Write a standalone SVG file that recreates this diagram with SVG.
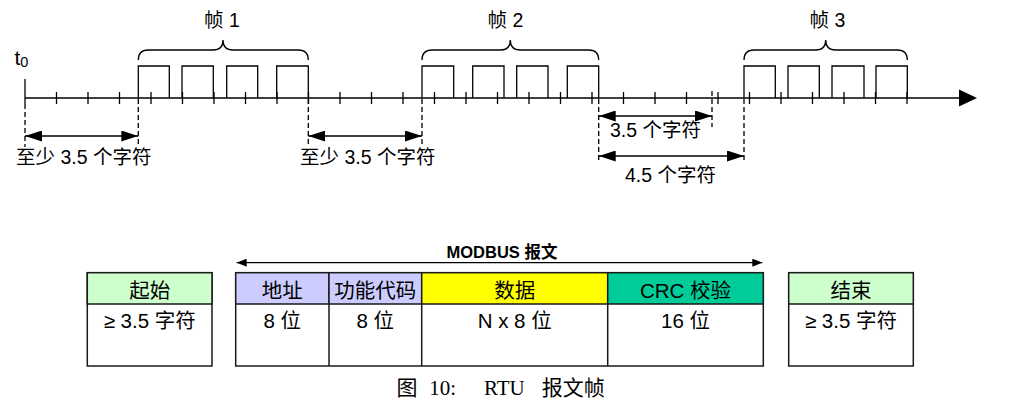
<svg xmlns="http://www.w3.org/2000/svg" width="1009" height="406" viewBox="0 0 1009 406">
<defs>
<style>
.t{font-family:"Liberation Sans","Noto Sans CJK SC",sans-serif;fill:#000}
.lbl{font-size:19.5px}
.hd{font-size:20.5px;text-anchor:middle}
.cap{font-family:"Liberation Serif","Noto Sans CJK SC",serif;font-size:21px;fill:#000}
.ln{stroke:#000;stroke-width:1.3;fill:none}
.dash{stroke:#000;stroke-width:1.3;fill:none;stroke-dasharray:5,3}
.box{stroke:#1a1a1a;stroke-width:1.5;fill:#fff}
</style>
<marker id="ah" viewBox="0 0 17 11" refX="17" refY="5.5" markerWidth="17" markerHeight="11" markerUnits="userSpaceOnUse" orient="auto-start-reverse">
<path d="M0,0 L17,5.5 L0,11 Z" fill="#000"/>
</marker>
<marker id="ah2" viewBox="0 0 10 8" refX="10" refY="4" markerWidth="10" markerHeight="8" markerUnits="userSpaceOnUse" orient="auto-start-reverse">
<path d="M0,0 L10,4 L0,8 Z" fill="#000"/>
</marker>
</defs>

<g id="timeline">
<path class="ln" d="M25,98 H960"/>
<path d="M959,89.5 L977,98 L959,106.5 Z" fill="#000"/>
<path class="ln" d="M25,79 V104"/>
<path class="ln" d="M56.5,92V104 M88,92V104 M119.5,92V104 M151,92V104 M182.5,92V104 M214,92V104 M245.5,92V104 M277,92V104 M308.5,92V104 M340,92V104 M371.5,92V104 M403,92V104 M434.5,92V104 M466,92V104 M497.5,92V104 M529,92V104 M560.5,92V104 M592,92V104 M623.5,92V104 M655,92V104 M686.5,92V104 M718,92V104 M749.5,92V104 M781,92V104 M812.5,92V104 M844,92V104 M875.5,92V104 M907,92V104"/>
<text class="t" x="14.5" y="65" font-size="21">t<tspan font-size="14.5" dy="1.5">0</tspan></text>
</g>

<g id="frame1">
<path class="ln" d="M138.3,98 V66 H169.3 V98 M182,98 V66 H213.3 V98 M226.7,98 V66 H257.7 V98 M276.7,98 V66 H308.3 V98"/>
<path class="ln" d="M138.3,60 Q138.3,50 148.3,50 L213,50 Q223,50 223,40 Q223,50 233,50 L298.3,50 Q308.3,50 308.3,60"/>
<text class="t lbl" x="204" y="27">帧 1</text>
</g>

<g id="frame2">
<path class="ln" d="M422,98 V66 H453.7 V98 M472.7,98 V66 H504 V98 M516.7,98 V66 H548 V98 M567.3,98 V66 H598.7 V98"/>
<path class="ln" d="M422,60 Q422,50 432,50 L500.3,50 Q510.3,50 510.3,40 Q510.3,50 520.3,50 L588.7,50 Q598.7,50 598.7,60"/>
<text class="t lbl" x="487.5" y="27">帧 2</text>
</g>

<g id="frame3">
<path class="ln" d="M744,98 V66 H775.3 V98 M788,98 V66 H819.3 V98 M832,98 V66 H864 V98 M876,98 V66 H907.3 V98"/>
<path class="ln" d="M744,60 Q744,50 754,50 L815.7,50 Q825.7,50 825.7,40 Q825.7,50 835.7,50 L897.3,50 Q907.3,50 907.3,60"/>
<text class="t lbl" x="809.5" y="27">帧 3</text>
</g>

<g id="connectors">
<path class="dash" d="M25,104 V147"/>
<path class="dash" d="M138.3,99 V147"/>
<path class="dash" d="M308.3,99 V147"/>
<path class="dash" d="M422,99 V147"/>
<path class="dash" d="M598.7,99 V161"/>
<path class="dash" d="M712,91 V127"/>
<path class="dash" d="M744,99 V161"/>
<path class="ln" d="M25,136 H138.3" marker-start="url(#ah)" marker-end="url(#ah)"/>
<path class="ln" d="M308.3,136 H422" marker-start="url(#ah)" marker-end="url(#ah)"/>
<path class="ln" d="M598.7,116 H712" marker-start="url(#ah)" marker-end="url(#ah)"/>
<path class="ln" d="M598.7,156 H744" marker-start="url(#ah)" marker-end="url(#ah)"/>
<path class="ln" d="M236.7,262.7 H762.3" marker-start="url(#ah2)" marker-end="url(#ah2)"/>
</g>

<g id="gap-labels">
<text class="t lbl" x="16" y="163.5">至少 3.5 个字符</text>
<text class="t lbl" x="300" y="163.5">至少 3.5 个字符</text>
<text class="t lbl" x="610" y="137">3.5 个字符</text>
<text class="t lbl" x="625" y="182">4.5 个字符</text>
</g>

<text class="t" x="446.5" y="257.5" font-size="16.5" font-weight="bold">MODBUS 报文</text>

<g id="start">
<rect class="box" x="87.3" y="272.7" width="124.7" height="93.3"/>
<rect x="87.3" y="272.7" width="124.7" height="31.3" fill="#ccffcc" stroke="#1a1a1a" stroke-width="1.5"/>
<text class="t hd" x="149.7" y="298">起始</text>
<text class="t hd" x="149.7" y="328">≥ 3.5 字符</text>
</g>

<g id="message">
<rect class="box" x="235.7" y="272.7" width="527.6" height="93.3"/>
<rect x="235.7" y="272.7" width="93.3" height="31.3" fill="#ccccff" stroke="#1a1a1a" stroke-width="1.5"/>
<rect x="329" y="272.7" width="92.7" height="31.3" fill="#ccccff" stroke="#1a1a1a" stroke-width="1.5"/>
<rect x="421.7" y="272.7" width="186" height="31.3" fill="#ffff00" stroke="#1a1a1a" stroke-width="1.5"/>
<rect x="607.7" y="272.7" width="155.6" height="31.3" fill="#00cc99" stroke="#1a1a1a" stroke-width="1.5"/>
<path d="M329,304 V366 M421.7,304 V366 M607.7,304 V366" stroke="#1a1a1a" stroke-width="1.5"/>
<text class="t hd" x="282.3" y="298">地址</text>
<text class="t hd" x="375.3" y="298">功能代码</text>
<text class="t hd" x="514.7" y="298">数据</text>
<text class="t hd" x="685.5" y="298">CRC 校验</text>
<text class="t hd" x="282.3" y="328">8 位</text>
<text class="t hd" x="375.3" y="328">8 位</text>
<text class="t hd" x="514.7" y="328">N x 8 位</text>
<text class="t hd" x="685.5" y="328">16 位</text>
</g>

<g id="end">
<rect class="box" x="788.7" y="272.7" width="124.6" height="93.3"/>
<rect x="788.7" y="272.7" width="124.6" height="31.3" fill="#ccffcc" stroke="#1a1a1a" stroke-width="1.5"/>
<text class="t hd" x="851" y="298">结束</text>
<text class="t hd" x="851" y="328">≥ 3.5 字符</text>
</g>

<text class="cap" y="395"><tspan x="396.5">图</tspan><tspan x="429.3">10:</tspan><tspan x="484">RTU</tspan><tspan x="541.7">报文帧</tspan></text>
</svg>
